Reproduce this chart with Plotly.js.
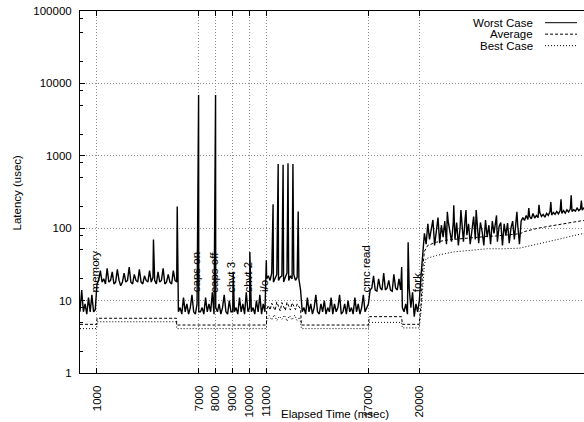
<!DOCTYPE html>
<html>
<head>
<meta charset="utf-8">
<script src="https://cdn.plot.ly/plotly-3.0.1.min.js"></script>
<style>
html, body { margin: 0; padding: 0; overflow: hidden; background: #fff; }
#chart { width: 590px; height: 422px; }
</style>
</head>
<body>
<div id="chart"></div>
<script>
// Worst case latency (usec): base samples every 100 ms starting at 0 ms
const sampleStepMs = 100;
const worstCase = [
  7, 14, 7, 9, 6.5, 11, 7, 12, 7, 7.5,
  17, 19, 26, 18, 20, 17, 28, 18, 19, 25,
  17, 18, 27, 19, 16, 18, 24, 18, 19, 29,
  18, 17, 23, 19, 18, 27, 18, 17, 22, 19,
  18, 26, 18, 21, 19, 17, 25, 18, 19, 28,
  17, 18, 23, 18, 17, 26, 19, 18,
  7, 8, 6.5, 11, 7, 9, 6.5, 8, 12, 7, 6.5, 9,
  7, 7, 8, 6.5, 11, 7, 9, 7, 13, 6.5,
  8, 7, 9, 6.5, 8, 12, 7, 6.5, 10, 7,
  7, 7, 8, 6.5, 11, 7, 9, 6.5, 13, 7,
  8, 7, 8, 6.5, 10, 7, 12, 6.5, 9, 7,
  20,
  22, 19, 24, 18, 20, 23, 19, 21, 22, 18, 21, 24, 19, 22, 20, 23, 19, 21, 20, 14,
  7, 8, 6.5, 11, 7, 9, 6.5, 8, 12, 7,
  6.5, 9, 7, 10, 6.5, 8, 7, 11, 6.5, 9,
  7, 8, 12, 6.5, 7, 9, 6.5, 10, 7, 8,
  6.5, 11, 7, 9, 6.5, 8, 12, 7, 8,
  9,
  14, 15, 22, 14, 13.5, 20, 15, 14, 24, 14, 15, 19, 14, 13.5, 23, 15, 14, 20, 14,
  8, 7, 9, 6.5, 15, 8, 13, 6, 9, 7,
  10, 22, 48, 85, 60, 115, 70, 100, 130, 58,
  95, 140, 62, 110, 75, 125, 60, 125, 90, 65,
  120, 70, 120, 58, 100, 130, 65, 135, 80, 115,
  60, 105, 145, 70, 125, 62, 120, 90, 58, 130,
  75, 110, 60, 125, 85, 120, 65, 105, 120, 58,
  115, 80, 118, 62, 100, 125, 70, 110, 110, 60,
  125, 140, 128, 150, 132, 145, 135, 160, 138, 150,
  140, 165, 145, 155, 142, 160, 150, 170, 152, 165,
  155, 170, 158, 175, 160, 175, 162, 180, 168, 185,
  170, 180, 172, 190, 175, 185, 178, 190, 182, 200, 185
];
// Worst case latency spikes (ms, usec) recorded between base samples
const spikeTimes  = [4330, 5730, 6990, 7990, 9030, 10010, 10980, 11380, 11680, 11970, 12260, 12550, 12860, 18960, 19340, 21650, 22030, 22450, 22750, 23350, 24550, 25750, 26450, 27050, 27750, 28350, 28950, 29550];
const spikeValues = [70,   200,  6900, 6900, 25,   47,    36,    214,   770,   750,   790,   770,   170,   29,    64,    168,   208,   178,   178,   178,   150,   168,   190,   210,   230,   250,   285,   240];

// Average latency: breakpoints (ms) and values (usec)
const avgTime = [0, 990, 1000, 5690, 5700, 10990, 11000, 11100, 11200, 11300, 11400, 11500, 11600, 11700, 11800, 11900, 12000, 12100, 12200, 12300, 12400, 12500, 12600, 12700, 12800, 12900, 13000, 13050, 17000, 17050, 18950, 19000, 19990, 20100, 20200, 20300, 20500, 21000, 21500, 22000, 22500, 23000, 23500, 24000, 24500, 25000, 25500, 25950, 26200, 26600, 27000, 27500, 28000, 28500, 29000, 29500, 30000];
const avgLatency = [4.7, 4.7, 5.7, 5.7, 4.6, 4.6, 7.5, 8.6, 7.4, 9.2, 8.2, 7.3, 9.6, 8.3, 7.2, 9.4, 8.4, 7.3, 9.5, 8.2, 7.4, 9.3, 8.3, 7.5, 9.0, 8.2, 7.6, 4.6, 4.6, 6.0, 6.0, 4.7, 4.7, 9, 28, 48, 58, 64, 68, 70, 72, 74, 76, 77, 78, 80, 82, 84, 90, 96, 100, 105, 110, 116, 122, 126, 130];

// Best case latency: breakpoints (ms) and values (usec)
const bestTime = [0, 990, 1000, 5690, 5700, 10990, 11000, 11150, 11300, 11450, 11600, 11750, 11900, 12050, 12200, 12350, 12500, 12650, 12800, 12950, 13050, 17000, 17050, 18950, 19000, 19990, 20100, 20200, 20300, 20400, 21000, 22000, 23000, 24000, 25000, 25900, 26500, 27000, 27500, 28000, 28500, 29000, 29500, 30000];
const bestLatency = [4.1, 4.1, 5.1, 5.1, 4.1, 4.1, 5.2, 6.2, 5.4, 6.4, 5.3, 6.1, 5.5, 6.3, 5.2, 6.2, 5.4, 6.3, 5.3, 5.9, 4.1, 4.1, 5.0, 5.0, 4.2, 4.2, 7, 18, 32, 38, 42, 47, 50, 52, 52, 53, 57, 61, 65, 69, 73, 78, 83, 88];

// Event markers on the time axis
const eventTimes = [1000, 7000, 8000, 9000, 10000, 11000, 17000, 20000];
const eventTickText = ['1000', '7000', '8000', '9000', '10000', '11000', '17000', '20000'];
const eventLabels = ['memory', 'caps on', 'caps off', 'chvt 3', 'chvt 2', 'i/o', 'cmc read', 'fork'];

const seriesNames = ['Worst Case', 'Average', 'Best Case'];
const yTickVals = [1, 10, 100, 1000, 10000, 100000];
const yTickText = ['1', '10', '100', '1000', '10000', '100000'];
const yMinorVals = [2, 5, 8, 20, 50, 80, 200, 500, 800, 2000, 5000, 8000, 20000, 50000, 80000];

// merge base samples and spikes into one time-ordered worst-case series
const worstPts = worstCase.map((v, i) => [i * sampleStepMs, v])
  .concat(spikeTimes.map((t, i) => [t, spikeValues[i]]))
  .sort((a, b) => a[0] - b[0]);
const worstTime = worstPts.map(p => p[0]);
const worstVal = worstPts.map(p => p[1]);

const FONT = '"Liberation Sans", Arial, Helvetica, sans-serif';
const FS = 11.5;
const GRID = '#8a8a8a';

const traces = [
  { x: worstTime, y: worstVal, name: seriesNames[0], type: 'scatter', mode: 'lines',
    line: { color: '#000', width: 1.4 } },
  { x: avgTime, y: avgLatency, name: seriesNames[1], type: 'scatter', mode: 'lines',
    line: { color: '#000', width: 1, dash: '3px,2px' } },
  { x: bestTime, y: bestLatency, name: seriesNames[2], type: 'scatter', mode: 'lines',
    line: { color: '#000', width: 1, dash: '1px,2px' } }
];

const annotations = [];
eventTimes.forEach((t, i) => {
  annotations.push({
    x: t, y: 1.085, xref: 'x', yref: 'y', text: eventLabels[i], showarrow: false,
    textangle: -90, xanchor: 'center', yanchor: 'bottom', xshift: -2,
    font: { family: FONT, size: FS, color: '#000' }
  });
});

// legend (gnuplot style: text then sample line)
const legendRowsY = [0.9677, 0.9360, 0.9043];
const legendDash = ['solid', '3px,2px', '1px,2px'];
const shapes = [];
seriesNames.forEach((n, i) => {
  annotations.push({
    x: 0.894, y: legendRowsY[i], xref: 'paper', yref: 'paper', text: n, showarrow: false,
    xanchor: 'right', yanchor: 'middle', font: { family: FONT, size: FS, color: '#000' }
  });
  shapes.push({
    type: 'line', xref: 'paper', yref: 'paper', x0: 0.9136, x1: 0.9764,
    y0: legendRowsY[i], y1: legendRowsY[i], line: { color: '#000', width: 1, dash: legendDash[i] }
  });
});

// axis titles
annotations.push({
  x: 0.5, y: -0.113, xref: 'paper', yref: 'paper', text: 'Elapsed Time (msec)', showarrow: false,
  xanchor: 'center', yanchor: 'middle', font: { family: FONT, size: FS, color: '#000' }
});
annotations.push({
  x: -0.1228, y: 0.5, xref: 'paper', yref: 'paper', text: 'Latency (usec)', showarrow: false,
  textangle: -90, xanchor: 'center', yanchor: 'middle', font: { family: FONT, size: FS, color: '#000' }
});

const layout = {
  width: 590, height: 422,
  margin: { l: 80, r: 1, t: 11, b: 49, pad: 0 },
  paper_bgcolor: '#fff', plot_bgcolor: '#fff',
  showlegend: false,
  font: { family: FONT, size: FS, color: '#000' },
  xaxis: {
    type: 'linear', range: [0, 30000],
    tickmode: 'array', tickvals: eventTimes, ticktext: eventTickText,
    tickangle: -90, ticks: 'inside', ticklen: 5, tickcolor: '#000',
    showline: true, linecolor: '#000', linewidth: 1, mirror: 'ticks',
    showgrid: true, gridcolor: GRID, griddash: '1px,2px', gridwidth: 1,
    zeroline: false, ticklabelstandoff: 7,
    tickfont: { family: FONT, size: FS, color: '#000' }
  },
  yaxis: {
    type: 'log', range: [0, 5],
    tickmode: 'array', tickvals: yTickVals, ticktext: yTickText,
    ticks: 'inside', ticklen: 5, tickcolor: '#000',
    minor: { tickmode: 'array', tickvals: yMinorVals, ticks: 'inside', ticklen: 3, tickcolor: '#000', showgrid: false },
    showline: true, linecolor: '#000', linewidth: 1, mirror: 'ticks',
    showgrid: true, gridcolor: GRID, griddash: '1px,2px', gridwidth: 1,
    zeroline: false, ticklabelstandoff: 5,
    tickfont: { family: FONT, size: FS, color: '#000' }
  },
  annotations: annotations,
  shapes: shapes
};

Plotly.newPlot('chart', traces, layout, { staticPlot: true, displayModeBar: false });
</script>
</body>
</html>
